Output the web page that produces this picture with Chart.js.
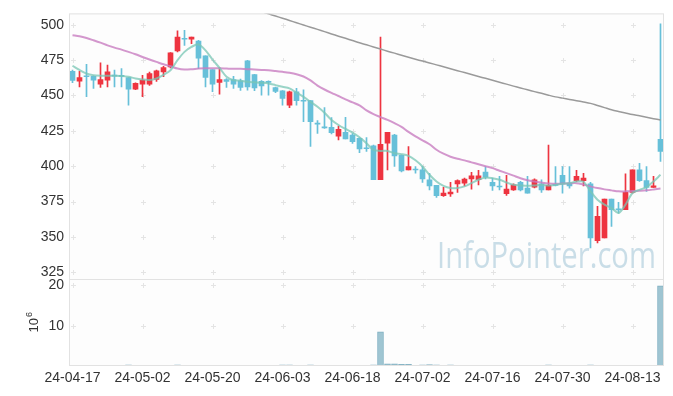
<!DOCTYPE html>
<html>
<head>
<meta charset="utf-8">
<script src="https://cdn.jsdelivr.net/npm/chart.js@4.4.1/dist/chart.umd.min.js"></script>
<style>
body{margin:0;background:#fff}
</style>
</head>
<body>
<canvas id="chart" width="673" height="396"></canvas>
<script>
// price chart with volume panel

const dates = ["24-04-17","24-04-18","24-04-19","24-04-22","24-04-23","24-04-24","24-04-25","24-04-26","24-04-29","24-04-30",
"24-05-02","24-05-03","24-05-07","24-05-08","24-05-09","24-05-10","24-05-13","24-05-14","24-05-16","24-05-17",
"24-05-20","24-05-21","24-05-22","24-05-23","24-05-24","24-05-27","24-05-28","24-05-29","24-05-30","24-05-31",
"24-06-03","24-06-04","24-06-05","24-06-07","24-06-10","24-06-11","24-06-12","24-06-13","24-06-14","24-06-17",
"24-06-18","24-06-19","24-06-20","24-06-21","24-06-24","24-06-25","24-06-26","24-06-27","24-06-28","24-07-01",
"24-07-02","24-07-03","24-07-04","24-07-05","24-07-08","24-07-09","24-07-10","24-07-11","24-07-12","24-07-15",
"24-07-16","24-07-17","24-07-18","24-07-19","24-07-22","24-07-23","24-07-24","24-07-25","24-07-26","24-07-29",
"24-07-30","24-07-31","24-08-01","24-08-02","24-08-05","24-08-06","24-08-07","24-08-08","24-08-09","24-08-12",
"24-08-13","24-08-14","24-08-16","24-08-19","24-08-20"]

const open = [467.0,460.1,463.8,463.6,458.0,460.8,464.4,464.2,462.7,454.4,
458.0,458.0,461.3,466.7,470.2,481.5,490.4,489.7,488.5,478.0,
468.3,459.2,461.3,461.3,460.4,474.4,464.8,460.0,460.0,455.6,
453.3,443.2,452.6,446.6,446.3,430.4,427.8,427.5,421.3,424.0,
422.0,419.7,412.9,414.3,390.4,416.2,422.0,407.7,397.4,397.9,
397.4,390.4,386.4,379.1,380.3,387.5,388.0,391.0,390.4,395.8,
388.5,386.0,380.5,383.3,388.5,384.5,385.2,387.5,383.3,387.1,
393.5,388.0,389.7,389.7,387.5,347.4,349.3,376.8,369.8,369.3,
381.5,397.4,389.9,385.0,419.0]

const high = [468.0,467.1,472.0,463.8,473.0,471.4,468.0,469.0,462.7,459.0,
464.3,466.5,468.0,470.6,480.3,495.6,496.0,491.3,489.0,478.0,
468.3,469.7,462.0,463.6,461.5,474.9,465.0,460.5,460.3,456.0,
453.5,453.0,455.0,454.0,446.3,432.2,441.5,434.3,428.4,434.5,
423.0,420.0,420.2,415.0,491.3,424.0,422.5,408.0,413.9,399.8,
399.8,395.0,386.5,385.0,388.5,390.4,391.5,395.6,397.0,399.8,
391.5,392.8,393.5,387.5,389.2,392.8,391.0,390.4,415.0,399.8,
399.8,399.8,397.0,395.0,388.5,371.6,376.8,376.8,374.4,394.6,
397.4,402.0,399.8,392.8,500.7]

const low = [459.0,456.1,449.1,455.0,455.6,456.1,456.1,456.0,443.2,454.0,
449.1,457.0,460.0,463.2,469.5,480.8,485.4,486.6,469.0,456.1,
452.6,450.9,455.6,455.0,453.6,453.7,453.4,450.2,450.2,452.0,
443.2,441.3,443.2,431.5,413.9,423.2,426.7,422.8,418.5,419.2,
416.0,409.6,410.4,390.4,390.4,397.4,399.8,396.0,397.4,395.0,
388.5,383.3,378.0,378.7,378.7,381.5,386.1,383.8,386.8,391.0,
382.9,383.3,379.4,382.9,382.5,381.0,384.6,381.5,383.3,386.0,
381.0,384.5,389.0,386.1,342.3,345.8,349.3,357.5,366.8,369.3,
381.0,389.2,382.2,385.0,403.3]

const close = [460.6,462.7,463.2,460.8,461.3,466.7,463.6,463.5,454.4,458.5,
460.8,465.5,467.4,469.7,480.1,491.3,489.8,491.3,476.3,462.7,
458.0,461.3,460.0,458.0,455.6,456.1,455.4,456.8,459.2,452.8,
447.9,452.6,446.3,445.9,431.5,429.7,427.1,423.7,426.1,419.2,
417.4,412.2,412.3,390.4,415.5,424.0,407.3,396.7,399.8,397.3,
391.0,386.1,379.1,381.0,381.7,389.9,390.8,393.2,393.2,392.3,
386.1,385.4,383.8,386.8,383.3,381.0,390.4,383.3,386.4,386.4,
387.5,386.1,392.8,391.5,349.3,364.6,376.8,369.3,369.0,381.5,
397.4,389.7,385.0,386.1,410.4]

// volume, millions
const volume = [0.04,0.03,0.05,0.02,0.04,0.03,0.02,0.03,0.30,0.03,
0.04,0.05,0.03,0.04,0.06,0.30,0.05,0.03,0.06,0.04,
0.04,0.03,0.02,0.03,0.03,0.05,0.03,0.02,0.02,0.03,
0.28,0.30,0.05,0.06,0.30,0.04,0.05,0.03,0.03,0.04,
0.02,0.04,0.02,0.26,8.45,0.55,0.52,0.42,0.40,0.05,
0.32,0.34,0.30,0.05,0.30,0.04,0.02,0.03,0.03,0.04,
0.02,0.02,0.03,0.02,0.02,0.03,0.02,0.02,0.30,0.03,
0.02,0.02,0.02,0.03,0.28,0.06,0.05,0.03,0.02,0.04,
0.05,0.03,0.02,0.02,19.9]

const ma5 = [471.0,468.0,465.5,464.3,463.9,463.9,464.0,463.8,463.2,462.0,
461.3,461.0,462.0,464.5,467.8,474.9,480.8,484.3,486.1,481.9,
475.4,469.5,463.2,460.8,460.4,459.6,459.3,459.0,458.5,457.3,
456.1,455.0,452.0,449.0,445.5,442.0,437.8,432.6,429.1,426.3,
423.7,420.4,416.2,411.5,410.8,410.8,409.2,408.5,407.3,404.2,
399.8,393.9,389.2,386.1,384.5,384.5,385.7,388.0,390.4,392.0,
391.5,390.4,388.5,386.8,386.4,386.1,386.4,386.8,386.4,386.8,
387.5,388.0,389.2,389.0,382.2,376.3,372.8,370.4,366.9,372.8,
381.0,383.3,385.2,389.2,393.9]

const ma20 = [492.5,491.8,490.6,489.0,487.3,485.4,483.8,482.4,480.8,479.1,
477.2,475.4,473.7,472.0,470.6,469.0,468.3,468.5,469.0,469.2,
469.2,469.2,469.0,468.8,468.8,468.6,468.3,468.0,467.8,467.3,
466.7,466.0,465.0,463.4,460.6,457.0,454.2,451.8,449.6,447.2,
445.1,443.0,439.4,436.8,434.7,432.7,430.4,427.8,424.2,421.1,
418.3,415.5,411.6,408.8,406.7,405.2,404.1,402.7,401.4,400.0,
398.6,396.8,395.1,393.3,391.5,390.0,389.1,388.4,387.8,387.5,
387.7,387.9,388.0,387.0,385.7,384.5,383.6,382.9,382.2,382.2,
382.4,382.6,382.9,383.5,384.2]

const maLong = [null,null,null,null,null,null,null,null,null,null,
null,null,null,null,null,null,null,null,null,null,
null,null,null,null,null,null,null,509.3,507.7,506.1,
504.6,503.0,501.4,499.8,498.2,496.7,495.1,493.5,491.9,490.4,
488.8,487.2,485.8,484.3,482.8,481.3,479.9,478.4,477.0,475.6,
474.3,473.0,471.6,470.3,468.9,467.5,466.2,464.8,463.4,462.1,
460.7,459.3,458.0,456.6,455.3,454.0,452.7,451.5,450.2,449.0,
448.1,447.2,446.3,445.4,444.4,442.9,441.4,439.9,438.7,437.6,
436.5,435.6,434.6,433.6,432.6]

const priceTicks = [325,350,375,400,425,450,475,500]
const volTicks = [10,20]

const RED = "#ee3440"
const BLUE = "#67c0d9"
const candleColor = close.map((c,i)=> c>=open[i] ? RED : BLUE)

const tickFont = {family:"'Liberation Sans', Arial, sans-serif", size:14}

const gridMarks = {
id:"gridMarks",
beforeDatasetsDraw(chart){
const {ctx, chartArea, scales} = chart
ctx.save()
ctx.fillStyle = "#fdfdfd"
ctx.fillRect(chartArea.left, chartArea.top, chartArea.width, chartArea.height)

// watermark
ctx.font = "36px 'Open Sans', sans-serif"
ctx.fillStyle = "rgba(170,202,218,0.62)"
const w = ctx.measureText("InfoPointer.com").width
ctx.translate(656, 268)
ctx.scale(219/w, 1)
ctx.textAlign = "left"
ctx.textBaseline = "alphabetic"
ctx.fillText("InfoPointer.com", -w, 0)
ctx.setTransform(1,0,0,1,0,0)

ctx.strokeStyle = "#e4e4e4"
ctx.lineWidth = 1
const xs = []
dates.forEach((d,i)=>{ if(i%10===0) xs.push(Math.round(scales.x.getPixelForValue(i))+0.5) })
const ys = priceTicks.map(v=>Math.round(scales.y.getPixelForValue(v))+0.5)
.concat(volTicks.map(v=>Math.round(scales.v.getPixelForValue(v))+0.5))
for(const x of xs){
for(const y of ys){
ctx.beginPath()
ctx.moveTo(x-2.5,y); ctx.lineTo(x+2.5,y)
ctx.moveTo(x,y-2.5); ctx.lineTo(x,y+2.5)
ctx.stroke()
}
}
ctx.restore()
},
afterDraw(chart){
const {ctx, chartArea, scales} = chart
ctx.save()
ctx.strokeStyle = "#e2e2e2"
ctx.lineWidth = 1
ctx.strokeRect(chartArea.left+0.5, chartArea.top+0.5, chartArea.width-1, chartArea.height-1)
const yb = Math.round(scales.y.bottom)+0.5
ctx.beginPath(); ctx.moveTo(chartArea.left, yb); ctx.lineTo(chartArea.right, yb); ctx.stroke()

// volume unit
const cy = (scales.v.top + scales.v.bottom)/2
ctx.translate(38, cy)
ctx.rotate(-Math.PI/2)
ctx.fillStyle = "#333"
ctx.textBaseline = "alphabetic"
ctx.font = "13px 'Liberation Sans', Arial, sans-serif"
const w10 = ctx.measureText("10").width
ctx.font = "9px 'Liberation Sans', Arial, sans-serif"
const w6 = ctx.measureText("6").width
const x0 = -(w10+w6)/2
ctx.font = "13px 'Liberation Sans', Arial, sans-serif"
ctx.fillText("10", x0, 0)
ctx.font = "9px 'Liberation Sans', Arial, sans-serif"
ctx.fillText("6", x0+w10+1, -6)
ctx.restore()
}
}

const chart = new Chart(document.getElementById("chart"), {
type:"bar",
data:{
labels: dates,
datasets:[
{type:"line", label:"MA5", data:ma5, yAxisID:"y", borderColor:"rgba(120,198,180,0.75)", borderWidth:2, pointRadius:0, tension:0.3, order:0},
{type:"line", label:"MA20", data:ma20, yAxisID:"y", borderColor:"rgba(200,125,192,0.8)", borderWidth:2, pointRadius:0, tension:0.3, order:0},
{type:"line", label:"MA", data:maLong, yAxisID:"y", borderColor:"#9a9a9a", borderWidth:1.5, pointRadius:0, tension:0.3, order:0},
{label:"body", data:open.map((o,i)=>[o,close[i]]), yAxisID:"y", backgroundColor:candleColor, barThickness:5, grouped:false, order:1},
{label:"wick", data:low.map((l,i)=>[l,high[i]]), yAxisID:"y", backgroundColor:candleColor, barThickness:1, grouped:false, order:2},
{label:"volume", data:volume, yAxisID:"v", backgroundColor:"#9fc5d2", borderColor:"#80b0c2", borderWidth:1, barThickness:6, grouped:false, order:3}
]
},
options:{
responsive:false,
animation:false,
layout:{padding:{top:10, right:9, left:0, bottom:0}},
plugins:{legend:{display:false}, tooltip:{enabled:false}},
scales:{
x:{
type:"category",
offset:true,
grid:{display:false, drawTicks:false},
border:{display:false},
afterFit:s=>{ s.height = 30 },
ticks:{autoSkip:false, maxRotation:0, padding:4, color:"#333", font:tickFont,
callback:(v,i)=> i%10===0 ? dates[i] : ""}
},
v:{
type:"linear", position:"left", stack:"panel", stackWeight:87,
min:0, max:21.5,
afterBuildTicks:s=>{ s.ticks = volTicks.map(v=>({value:v})) },
afterFit:s=>{ s.width = 69 },
grid:{display:false, drawTicks:false}, border:{display:false},
ticks:{padding:5, color:"#333", font:tickFont}
},
y:{
type:"linear", position:"left", stack:"panel", stackWeight:267,
min:320, max:508,
afterBuildTicks:s=>{ s.ticks = priceTicks.map(v=>({value:v})) },
afterFit:s=>{ s.width = 69 },
grid:{display:false, drawTicks:false}, border:{display:false},
ticks:{padding:5, color:"#333", font:tickFont}
}
}
},
plugins:[gridMarks]
})
</script>
</body>
</html>
